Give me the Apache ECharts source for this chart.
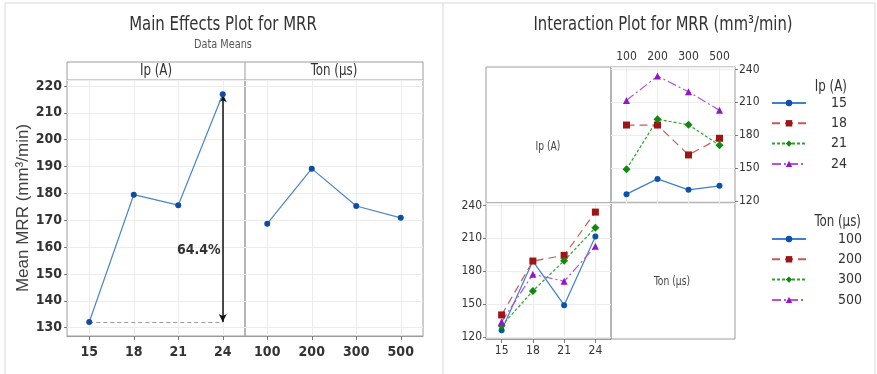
<!DOCTYPE html>
<html><head><meta charset="utf-8">
<script src="https://cdn.jsdelivr.net/npm/echarts@6/dist/echarts.min.js"></script>
<style>html,body{margin:0;padding:0;background:#fff}#c{width:877px;height:374px}</style>
</head><body><div id="c"></div>
<script>
// ---- data ----
const ipLevels = ['15', '18', '21', '24'];
const tonLevels = ['100', '200', '300', '500'];
const ipMeans = [132.1, 179.5, 175.6, 216.9];
const tonMeans = [168.7, 189.2, 175.3, 170.9];
// interaction means: one array per Ip level, values over Ton levels
const mrrIp15 = [126.1, 140.0, 130.0, 133.7];
const mrrIp18 = [189.2, 189.2, 161.9, 177.1];
const mrrIp21 = [148.9, 194.4, 189.5, 170.7];
const mrrIp24 = [211.7, 233.9, 219.6, 202.6];
const changeLabel = '64.4%';

const ipRows = [mrrIp15, mrrIp18, mrrIp21, mrrIp24];
const tonCols = tonLevels.map((_, j) => ipRows.map(r => r[j]));

const NARROW = "'Liberation Sans Narrow','DejaVu Sans Condensed',sans-serif";
const TXT = '#333';
const FRAME = '#9c9c9c';
const GRIDC = '#ececec';

const styles = [
  {color: '#0b52a8', line: '#3f7fcf', symbol: 'circle', size: 6, type: 'solid'},
  {color: '#9e1515', line: '#c55a5a', symbol: 'rect', size: 7, type: [8, 5]},
  {color: '#0e8a0e', line: '#2aa52a', symbol: 'diamond', size: 8, type: [3, 2]},
  {color: '#9414c8', line: '#b552e0', symbol: 'triangle', size: 7, type: [9, 3, 2, 3]}
];

function catAxis(grid, data, pos, fs, margin, tick, weight) {
  return {
    type: 'category', gridIndex: grid, data: data, position: pos, boundaryGap: true,
    axisLine: {show: pos === 'bottom', lineStyle: {color: FRAME}},
    axisTick: {show: tick, alignWithLabel: true, length: 4, lineStyle: {color: '#777'}},
    axisLabel: {interval: 0, fontSize: fs, fontWeight: weight, fontFamily: NARROW, color: TXT, margin: margin},
    splitLine: {show: true, alignWithLabel: true, lineStyle: {color: GRIDC}}
  };
}
function valAxis(grid, min, max, split, pos, showLabel, fs, margin, weight) {
  return {
    type: 'value', gridIndex: grid, min: min, max: max, splitNumber: split, position: pos,
    axisLine: {show: false},
    axisTick: {show: showLabel, length: 3, lineStyle: {color: '#777'}},
    axisLabel: {show: showLabel, showMinLabel: false, showMaxLabel: false, fontSize: fs,
      fontWeight: weight, fontFamily: NARROW, color: TXT, margin: margin},
    splitLine: {show: true, lineStyle: {color: GRIDC}}
  };
}

const series = [];
series.push({
  name: 'Ip main', type: 'line', xAxisIndex: 0, yAxisIndex: 0, data: ipMeans,
  symbol: 'circle', symbolSize: 6, itemStyle: {color: '#0f4d9e'},
  lineStyle: {color: '#4a86c8', width: 1.2}, z: 5,
  markLine: {
    silent: true, symbol: ['arrow', 'arrow'], symbolSize: [6, 8], label: {show: false},
    data: [
      [{coord: [ipLevels[3], ipMeans[0]], lineStyle: {color: '#111', width: 1.5, type: 'solid'}},
       {coord: [ipLevels[3], ipMeans[3]]}],
      [{coord: [ipLevels[0], ipMeans[0]], symbol: 'none', lineStyle: {color: '#999', width: 1.2, type: [4, 3]}},
       {coord: [ipLevels[3], ipMeans[0]], symbol: 'none'}]
    ]
  },
  markPoint: {
    silent: true, symbol: 'circle', symbolSize: 0,
    label: {show: true, position: 'inside', offset: [-24, 0], formatter: changeLabel,
      fontSize: 14, fontWeight: 'bold', fontFamily: NARROW, color: '#333'},
    data: [{coord: [ipLevels[3], 158.9]}]
  }
});
series.push({
  name: 'Ton main', type: 'line', xAxisIndex: 1, yAxisIndex: 1, data: tonMeans,
  symbol: 'circle', symbolSize: 6, itemStyle: {color: '#0f4d9e'},
  lineStyle: {color: '#4a86c8', width: 1.2}
});
ipLevels.forEach((lv, i) => {
  const s = styles[i];
  series.push({name: lv, type: 'line', xAxisIndex: 2, yAxisIndex: 2, data: ipRows[i],
    symbol: s.symbol, symbolSize: s.size, itemStyle: {color: s.color},
    lineStyle: {color: s.line, width: 1.2, type: s.type}});
});
tonLevels.forEach((lv, j) => {
  const s = styles[j];
  series.push({name: lv, type: 'line', xAxisIndex: 3, yAxisIndex: 3, data: tonCols[j],
    symbol: s.symbol, symbolSize: s.size, itemStyle: {color: s.color},
    lineStyle: {color: s.line, width: 1.2, type: s.type}});
});

function legend(names, top, w) {
  return {
    data: names, orient: 'vertical', left: 771, top: top, padding: 0,
    itemWidth: 34, itemHeight: 8, itemGap: 6.3, selectedMode: false,
    formatter: n => '{t|' + n + '}',
    textStyle: {rich: {t: {width: w, align: 'right', fontSize: 14, fontFamily: NARROW, color: TXT}}}
  };
}
function txt(x, y, text, size, sx, opts) {
  opts = opts || {};
  return {type: 'text', x: x, y: y, scaleX: sx, silent: true, style: Object.assign({
    text: text, fontSize: size, fontFamily: NARROW, fill: TXT,
    align: 'center', verticalAlign: 'middle', textAlign: 'center', textVerticalAlign: 'middle'
  }, opts)};
}
function ln(x1, y1, x2, y2, c) {
  return {type: 'line', silent: true, shape: {x1, y1, x2, y2}, style: {stroke: c || FRAME, lineWidth: 1}};
}

const option = {
  animation: false,
  grid: [
    {left: 67, top: 80, width: 178, height: 256, show: true, borderColor: FRAME, backgroundColor: 'transparent'},
    {left: 245, top: 80, width: 178, height: 256, show: true, borderColor: FRAME, backgroundColor: 'transparent'},
    {left: 486, top: 67, width: 125, height: 136, show: true, borderColor: FRAME, backgroundColor: 'transparent'},
    {left: 611, top: 67, width: 124, height: 136, show: true, borderColor: FRAME, backgroundColor: 'transparent'},
    {left: 486, top: 203, width: 125, height: 136, show: true, borderColor: FRAME, backgroundColor: 'transparent'},
    {left: 611, top: 203, width: 124, height: 136, show: true, borderColor: FRAME, backgroundColor: 'transparent'}
  ],
  xAxis: [
    catAxis(0, ipLevels, 'bottom', 14, 9, true, 'bold'),
    catAxis(1, tonLevels, 'bottom', 14, 9, true, 'bold'),
    catAxis(3, tonLevels, 'top', 12, 4, false, 'normal'),
    catAxis(4, ipLevels, 'bottom', 12, 6, true, 'normal')
  ],
  yAxis: [
    Object.assign(valAxis(0, 126.9, 222.2, 10, 'left', true, 14, 5, 'bold'), {
      name: 'Mean MRR (mm³/min)', nameLocation: 'middle', nameGap: 32,
      nameTextStyle: {fontSize: 17, fontFamily: "'Liberation Sans',Arial,sans-serif", color: '#404040'}
    }),
    valAxis(1, 126.9, 222.2, 10, 'left', false, 14, 5, 'bold'),
    valAxis(3, 118, 242.2, 4, 'right', true, 12, 4, 'normal'),
    valAxis(4, 118, 242.2, 4, 'left', true, 12, 4, 'normal')
  ],
  legend: [legend(ipLevels, 96, 36), legend(tonLevels, 232, 51)],
  series: series,
  graphic: [
    ln(5, 3, 875, 3, '#d9d9d9'), ln(5, 3, 5, 374, '#d9d9d9'), ln(443, 3, 443, 374, '#d9d9d9'), ln(875, 3, 875, 374, '#d9d9d9'),
    {type: 'rect', silent: true, shape: {x: 67, y: 62, width: 356, height: 18}, style: {fill: '#fff', stroke: FRAME, lineWidth: 1}},
    ln(245, 62, 245, 80),
    txt(223, 25, 'Main Effects Plot for MRR', 20, 0.83),
    txt(223, 45, 'Data Means', 12, 0.9, {fill: '#555'}),
    txt(156, 71, 'Ip (A)', 15, 0.88),
    txt(334, 71, 'Ton (µs)', 15, 0.88),
    txt(663, 25, 'Interaction Plot for MRR (mm³/min)', 20, 0.82),
    txt(548, 147, 'Ip (A)', 12, 0.85, {fill: '#444'}),
    txt(672, 282, 'Ton (µs)', 12, 0.85, {fill: '#444'}),
    txt(847, 87, 'Ip (A)', 15, 0.88, {align: 'right', textAlign: 'right'}),
    txt(861, 222, 'Ton (µs)', 15, 0.88, {align: 'right', textAlign: 'right'})
  ]
};
const chart = echarts.init(document.getElementById('c'), null, {renderer: 'canvas'});
chart.setOption(option);
</script></body></html>
